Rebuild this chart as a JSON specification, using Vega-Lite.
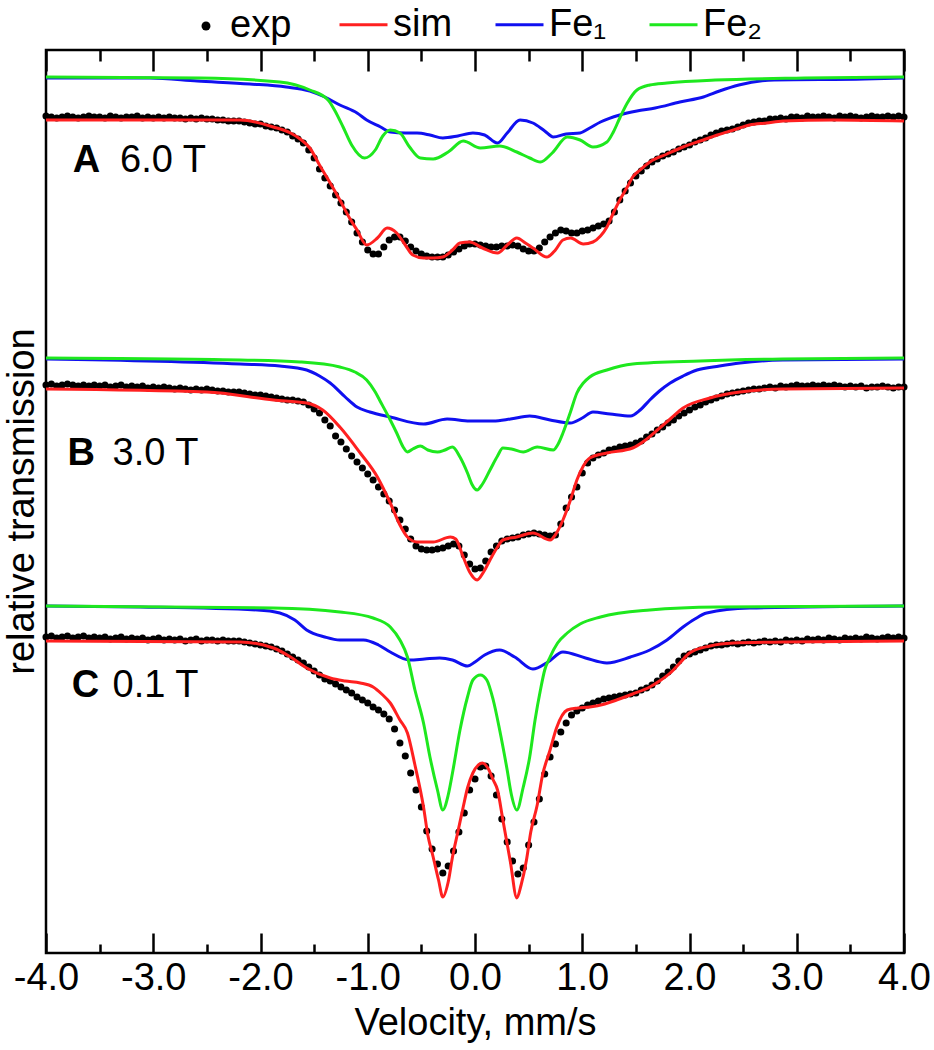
{
"$schema":"https://vega.github.io/schema/vega-lite/v6.json",
"width":858,"height":903,
"autosize":{"type":"none"},
"padding":{"left":46,"top":50,"right":30,"bottom":97},
"background":"white",
"config":{"view":{"stroke":"black","strokeWidth":2.5},"font":"Liberation Sans"},
"datasets":{
"exp":[
{"v":-4,"t":8.37},{"v":-3.95,"t":8.36},{"v":-3.9,"t":8.35},{"v":-3.85,"t":8.36},{"v":-3.8,"t":8.37},{"v":-3.75,"t":8.36},{"v":-3.7,"t":8.35},{"v":-3.65,"t":8.36},{"v":-3.6,"t":8.37},{"v":-3.55,"t":8.36},{"v":-3.5,"t":8.36},{"v":-3.45,"t":8.35},{"v":-3.4,"t":8.37},{"v":-3.35,"t":8.36},{"v":-3.3,"t":8.35},{"v":-3.25,"t":8.36},{"v":-3.2,"t":8.36},{"v":-3.15,"t":8.37},{"v":-3.1,"t":8.35},{"v":-3.05,"t":8.36},{"v":-3,"t":8.35},{"v":-2.95,"t":8.36},{"v":-2.9,"t":8.35},{"v":-2.85,"t":8.36},{"v":-2.8,"t":8.35},{"v":-2.75,"t":8.35},{"v":-2.7,"t":8.34},{"v":-2.65,"t":8.35},{"v":-2.6,"t":8.34},{"v":-2.55,"t":8.35},{"v":-2.5,"t":8.34},{"v":-2.45,"t":8.34},{"v":-2.4,"t":8.33},{"v":-2.35,"t":8.33},{"v":-2.3,"t":8.32},{"v":-2.25,"t":8.32},{"v":-2.2,"t":8.32},{"v":-2.15,"t":8.31},{"v":-2.1,"t":8.30},{"v":-2.05,"t":8.29},{"v":-2,"t":8.29},{"v":-1.95,"t":8.27},{"v":-1.9,"t":8.26},{"v":-1.85,"t":8.25},{"v":-1.8,"t":8.23},{"v":-1.75,"t":8.21},{"v":-1.7,"t":8.17},{"v":-1.65,"t":8.14},{"v":-1.6,"t":8.10},{"v":-1.55,"t":8.03},{"v":-1.5,"t":7.95},{"v":-1.45,"t":7.84},{"v":-1.4,"t":7.75},{"v":-1.35,"t":7.67},{"v":-1.3,"t":7.58},{"v":-1.25,"t":7.50},{"v":-1.2,"t":7.41},{"v":-1.15,"t":7.31},{"v":-1.1,"t":7.20},{"v":-1.05,"t":7.11},{"v":-1,"t":7.03},{"v":-0.95,"t":6.99},{"v":-0.9,"t":6.99},{"v":-0.85,"t":7.06},{"v":-0.8,"t":7.13},{"v":-0.75,"t":7.16},{"v":-0.7,"t":7.16},{"v":-0.65,"t":7.12},{"v":-0.6,"t":7.06},{"v":-0.55,"t":7.02},{"v":-0.5,"t":6.99},{"v":-0.45,"t":6.97},{"v":-0.4,"t":6.96},{"v":-0.35,"t":6.96},{"v":-0.3,"t":6.96},{"v":-0.25,"t":6.98},{"v":-0.2,"t":7.01},{"v":-0.15,"t":7.04},{"v":-0.1,"t":7.07},{"v":-0.05,"t":7.09},{"v":0,"t":7.09},{"v":0.05,"t":7.08},{"v":0.1,"t":7.07},{"v":0.15,"t":7.06},{"v":0.2,"t":7.06},{"v":0.25,"t":7.07},{"v":0.3,"t":7.07},{"v":0.35,"t":7.08},{"v":0.4,"t":7.07},{"v":0.45,"t":7.04},{"v":0.5,"t":7.02},{"v":0.55,"t":7.02},{"v":0.6,"t":7.05},{"v":0.65,"t":7.11},{"v":0.7,"t":7.16},{"v":0.75,"t":7.20},{"v":0.8,"t":7.23},{"v":0.85,"t":7.22},{"v":0.9,"t":7.20},{"v":0.95,"t":7.20},{"v":1,"t":7.22},{"v":1.05,"t":7.23},{"v":1.1,"t":7.25},{"v":1.15,"t":7.27},{"v":1.2,"t":7.29},{"v":1.25,"t":7.32},{"v":1.3,"t":7.41},{"v":1.35,"t":7.53},{"v":1.4,"t":7.62},{"v":1.45,"t":7.70},{"v":1.5,"t":7.77},{"v":1.55,"t":7.82},{"v":1.6,"t":7.87},{"v":1.65,"t":7.91},{"v":1.7,"t":7.94},{"v":1.75,"t":7.97},{"v":1.8,"t":7.99},{"v":1.85,"t":8.01},{"v":1.9,"t":8.04},{"v":1.95,"t":8.06},{"v":2,"t":8.08},{"v":2.05,"t":8.11},{"v":2.1,"t":8.13},{"v":2.15,"t":8.15},{"v":2.2,"t":8.18},{"v":2.25,"t":8.20},{"v":2.3,"t":8.22},{"v":2.35,"t":8.23},{"v":2.4,"t":8.24},{"v":2.45,"t":8.26},{"v":2.5,"t":8.28},{"v":2.55,"t":8.30},{"v":2.6,"t":8.31},{"v":2.65,"t":8.32},{"v":2.7,"t":8.32},{"v":2.75,"t":8.34},{"v":2.8,"t":8.34},{"v":2.85,"t":8.35},{"v":2.9,"t":8.34},{"v":2.95,"t":8.36},{"v":3,"t":8.36},{"v":3.05,"t":8.35},{"v":3.1,"t":8.37},{"v":3.15,"t":8.36},{"v":3.2,"t":8.36},{"v":3.25,"t":8.37},{"v":3.3,"t":8.36},{"v":3.35,"t":8.35},{"v":3.4,"t":8.37},{"v":3.45,"t":8.36},{"v":3.5,"t":8.37},{"v":3.55,"t":8.36},{"v":3.6,"t":8.35},{"v":3.65,"t":8.36},{"v":3.7,"t":8.37},{"v":3.75,"t":8.36},{"v":3.8,"t":8.36},{"v":3.85,"t":8.37},{"v":3.9,"t":8.36},{"v":3.95,"t":8.37},{"v":4,"t":8.36},
{"v":-4,"t":5.68},{"v":-3.95,"t":5.69},{"v":-3.9,"t":5.67},{"v":-3.85,"t":5.68},{"v":-3.8,"t":5.69},{"v":-3.75,"t":5.68},{"v":-3.7,"t":5.67},{"v":-3.65,"t":5.68},{"v":-3.6,"t":5.67},{"v":-3.55,"t":5.68},{"v":-3.5,"t":5.67},{"v":-3.45,"t":5.68},{"v":-3.4,"t":5.66},{"v":-3.35,"t":5.67},{"v":-3.3,"t":5.68},{"v":-3.25,"t":5.66},{"v":-3.2,"t":5.67},{"v":-3.15,"t":5.66},{"v":-3.1,"t":5.67},{"v":-3.05,"t":5.65},{"v":-3,"t":5.66},{"v":-2.95,"t":5.65},{"v":-2.9,"t":5.66},{"v":-2.85,"t":5.65},{"v":-2.8,"t":5.64},{"v":-2.75,"t":5.65},{"v":-2.7,"t":5.64},{"v":-2.65,"t":5.63},{"v":-2.6,"t":5.64},{"v":-2.55,"t":5.63},{"v":-2.5,"t":5.64},{"v":-2.45,"t":5.63},{"v":-2.4,"t":5.62},{"v":-2.35,"t":5.62},{"v":-2.3,"t":5.61},{"v":-2.25,"t":5.61},{"v":-2.2,"t":5.61},{"v":-2.15,"t":5.60},{"v":-2.1,"t":5.59},{"v":-2.05,"t":5.58},{"v":-2,"t":5.58},{"v":-1.95,"t":5.57},{"v":-1.9,"t":5.56},{"v":-1.85,"t":5.55},{"v":-1.8,"t":5.54},{"v":-1.75,"t":5.53},{"v":-1.7,"t":5.53},{"v":-1.65,"t":5.52},{"v":-1.6,"t":5.51},{"v":-1.55,"t":5.48},{"v":-1.5,"t":5.44},{"v":-1.45,"t":5.40},{"v":-1.4,"t":5.33},{"v":-1.35,"t":5.27},{"v":-1.3,"t":5.17},{"v":-1.25,"t":5.11},{"v":-1.2,"t":5.04},{"v":-1.15,"t":4.97},{"v":-1.1,"t":4.91},{"v":-1.05,"t":4.85},{"v":-1,"t":4.79},{"v":-0.95,"t":4.73},{"v":-0.9,"t":4.66},{"v":-0.85,"t":4.59},{"v":-0.8,"t":4.52},{"v":-0.75,"t":4.43},{"v":-0.7,"t":4.33},{"v":-0.65,"t":4.24},{"v":-0.6,"t":4.14},{"v":-0.55,"t":4.07},{"v":-0.5,"t":4.04},{"v":-0.45,"t":4.03},{"v":-0.4,"t":4.03},{"v":-0.35,"t":4.04},{"v":-0.3,"t":4.05},{"v":-0.25,"t":4.07},{"v":-0.2,"t":4.09},{"v":-0.15,"t":4.07},{"v":-0.1,"t":3.98},{"v":-0.05,"t":3.89},{"v":0,"t":3.84},{"v":0.05,"t":3.85},{"v":0.1,"t":3.92},{"v":0.15,"t":4.01},{"v":0.2,"t":4.07},{"v":0.25,"t":4.12},{"v":0.3,"t":4.14},{"v":0.35,"t":4.15},{"v":0.4,"t":4.16},{"v":0.45,"t":4.18},{"v":0.5,"t":4.19},{"v":0.55,"t":4.20},{"v":0.6,"t":4.19},{"v":0.65,"t":4.18},{"v":0.7,"t":4.17},{"v":0.75,"t":4.18},{"v":0.8,"t":4.29},{"v":0.85,"t":4.45},{"v":0.9,"t":4.56},{"v":0.95,"t":4.66},{"v":1,"t":4.80},{"v":1.05,"t":4.90},{"v":1.1,"t":4.95},{"v":1.15,"t":4.98},{"v":1.2,"t":5.00},{"v":1.25,"t":5.03},{"v":1.3,"t":5.04},{"v":1.35,"t":5.06},{"v":1.4,"t":5.07},{"v":1.45,"t":5.08},{"v":1.5,"t":5.10},{"v":1.55,"t":5.12},{"v":1.6,"t":5.16},{"v":1.65,"t":5.19},{"v":1.7,"t":5.23},{"v":1.75,"t":5.26},{"v":1.8,"t":5.30},{"v":1.85,"t":5.33},{"v":1.9,"t":5.37},{"v":1.95,"t":5.40},{"v":2,"t":5.43},{"v":2.05,"t":5.46},{"v":2.1,"t":5.48},{"v":2.15,"t":5.51},{"v":2.2,"t":5.53},{"v":2.25,"t":5.55},{"v":2.3,"t":5.57},{"v":2.35,"t":5.59},{"v":2.4,"t":5.60},{"v":2.45,"t":5.61},{"v":2.5,"t":5.62},{"v":2.55,"t":5.63},{"v":2.6,"t":5.64},{"v":2.65,"t":5.64},{"v":2.7,"t":5.65},{"v":2.75,"t":5.66},{"v":2.8,"t":5.65},{"v":2.85,"t":5.67},{"v":2.9,"t":5.66},{"v":2.95,"t":5.67},{"v":3,"t":5.68},{"v":3.05,"t":5.67},{"v":3.1,"t":5.67},{"v":3.15,"t":5.68},{"v":3.2,"t":5.67},{"v":3.25,"t":5.68},{"v":3.3,"t":5.67},{"v":3.35,"t":5.68},{"v":3.4,"t":5.67},{"v":3.45,"t":5.66},{"v":3.5,"t":5.67},{"v":3.55,"t":5.66},{"v":3.6,"t":5.67},{"v":3.65,"t":5.65},{"v":3.7,"t":5.66},{"v":3.75,"t":5.66},{"v":3.8,"t":5.67},{"v":3.85,"t":5.66},{"v":3.9,"t":5.65},{"v":3.95,"t":5.66},{"v":4,"t":5.66},
{"v":-4,"t":3.16},{"v":-3.95,"t":3.17},{"v":-3.9,"t":3.15},{"v":-3.85,"t":3.16},{"v":-3.8,"t":3.17},{"v":-3.75,"t":3.15},{"v":-3.7,"t":3.16},{"v":-3.65,"t":3.17},{"v":-3.6,"t":3.15},{"v":-3.55,"t":3.16},{"v":-3.5,"t":3.15},{"v":-3.45,"t":3.16},{"v":-3.4,"t":3.14},{"v":-3.35,"t":3.15},{"v":-3.3,"t":3.16},{"v":-3.25,"t":3.14},{"v":-3.2,"t":3.15},{"v":-3.15,"t":3.14},{"v":-3.1,"t":3.15},{"v":-3.05,"t":3.13},{"v":-3,"t":3.14},{"v":-2.95,"t":3.15},{"v":-2.9,"t":3.13},{"v":-2.85,"t":3.14},{"v":-2.8,"t":3.13},{"v":-2.75,"t":3.14},{"v":-2.7,"t":3.12},{"v":-2.65,"t":3.13},{"v":-2.6,"t":3.14},{"v":-2.55,"t":3.12},{"v":-2.5,"t":3.13},{"v":-2.45,"t":3.13},{"v":-2.4,"t":3.12},{"v":-2.35,"t":3.13},{"v":-2.3,"t":3.12},{"v":-2.25,"t":3.12},{"v":-2.2,"t":3.12},{"v":-2.15,"t":3.11},{"v":-2.1,"t":3.10},{"v":-2.05,"t":3.09},{"v":-2,"t":3.08},{"v":-1.95,"t":3.07},{"v":-1.9,"t":3.06},{"v":-1.85,"t":3.04},{"v":-1.8,"t":3.02},{"v":-1.75,"t":2.99},{"v":-1.7,"t":2.96},{"v":-1.65,"t":2.93},{"v":-1.6,"t":2.90},{"v":-1.55,"t":2.86},{"v":-1.5,"t":2.82},{"v":-1.45,"t":2.78},{"v":-1.4,"t":2.74},{"v":-1.35,"t":2.72},{"v":-1.3,"t":2.69},{"v":-1.25,"t":2.66},{"v":-1.2,"t":2.63},{"v":-1.15,"t":2.60},{"v":-1.1,"t":2.56},{"v":-1.05,"t":2.53},{"v":-1,"t":2.50},{"v":-0.95,"t":2.46},{"v":-0.9,"t":2.43},{"v":-0.85,"t":2.39},{"v":-0.8,"t":2.34},{"v":-0.75,"t":2.24},{"v":-0.7,"t":2.10},{"v":-0.65,"t":1.97},{"v":-0.6,"t":1.80},{"v":-0.55,"t":1.63},{"v":-0.5,"t":1.46},{"v":-0.45,"t":1.22},{"v":-0.4,"t":1.04},{"v":-0.35,"t":0.89},{"v":-0.3,"t":0.80},{"v":-0.25,"t":0.87},{"v":-0.2,"t":1.02},{"v":-0.15,"t":1.21},{"v":-0.1,"t":1.40},{"v":-0.05,"t":1.63},{"v":0,"t":1.74},{"v":0.05,"t":1.86},{"v":0.1,"t":1.87},{"v":0.15,"t":1.77},{"v":0.2,"t":1.58},{"v":0.25,"t":1.34},{"v":0.3,"t":1.11},{"v":0.35,"t":0.92},{"v":0.4,"t":0.79},{"v":0.45,"t":0.85},{"v":0.5,"t":1.08},{"v":0.55,"t":1.31},{"v":0.6,"t":1.54},{"v":0.65,"t":1.79},{"v":0.7,"t":1.96},{"v":0.75,"t":2.09},{"v":0.8,"t":2.21},{"v":0.85,"t":2.30},{"v":0.9,"t":2.38},{"v":0.95,"t":2.42},{"v":1,"t":2.45},{"v":1.05,"t":2.48},{"v":1.1,"t":2.50},{"v":1.15,"t":2.52},{"v":1.2,"t":2.54},{"v":1.25,"t":2.55},{"v":1.3,"t":2.56},{"v":1.35,"t":2.57},{"v":1.4,"t":2.58},{"v":1.45,"t":2.59},{"v":1.5,"t":2.60},{"v":1.55,"t":2.63},{"v":1.6,"t":2.65},{"v":1.65,"t":2.68},{"v":1.7,"t":2.72},{"v":1.75,"t":2.77},{"v":1.8,"t":2.81},{"v":1.85,"t":2.86},{"v":1.9,"t":2.92},{"v":1.95,"t":2.97},{"v":2,"t":2.99},{"v":2.05,"t":3.01},{"v":2.1,"t":3.03},{"v":2.15,"t":3.05},{"v":2.2,"t":3.07},{"v":2.25,"t":3.08},{"v":2.3,"t":3.08},{"v":2.35,"t":3.09},{"v":2.4,"t":3.10},{"v":2.45,"t":3.09},{"v":2.5,"t":3.10},{"v":2.55,"t":3.11},{"v":2.6,"t":3.10},{"v":2.65,"t":3.11},{"v":2.7,"t":3.12},{"v":2.75,"t":3.11},{"v":2.8,"t":3.12},{"v":2.85,"t":3.11},{"v":2.9,"t":3.13},{"v":2.95,"t":3.12},{"v":3,"t":3.13},{"v":3.05,"t":3.12},{"v":3.1,"t":3.14},{"v":3.15,"t":3.13},{"v":3.2,"t":3.14},{"v":3.25,"t":3.13},{"v":3.3,"t":3.15},{"v":3.35,"t":3.14},{"v":3.4,"t":3.13},{"v":3.45,"t":3.15},{"v":3.5,"t":3.14},{"v":3.55,"t":3.15},{"v":3.6,"t":3.14},{"v":3.65,"t":3.16},{"v":3.7,"t":3.15},{"v":3.75,"t":3.14},{"v":3.8,"t":3.15},{"v":3.85,"t":3.16},{"v":3.9,"t":3.15},{"v":3.95,"t":3.16},{"v":4,"t":3.15}
],
"fits":[
{"spectrum":"A","series":"sim","v":-4,"t":8.33},{"spectrum":"A","series":"sim","v":-3.03,"t":8.33},{"spectrum":"A","series":"sim","v":-2.19,"t":8.33},{"spectrum":"A","series":"sim","v":-1.88,"t":8.26},{"spectrum":"A","series":"sim","v":-1.72,"t":8.20},{"spectrum":"A","series":"sim","v":-1.63,"t":8.14},{"spectrum":"A","series":"sim","v":-1.54,"t":8.05},{"spectrum":"A","series":"sim","v":-1.45,"t":7.88},{"spectrum":"A","series":"sim","v":-1.35,"t":7.70},{"spectrum":"A","series":"sim","v":-1.26,"t":7.53},{"spectrum":"A","series":"sim","v":-1.17,"t":7.35},{"spectrum":"A","series":"sim","v":-1.10,"t":7.23},{"spectrum":"A","series":"sim","v":-1.01,"t":7.08},{"spectrum":"A","series":"sim","v":-0.91,"t":7.15},{"spectrum":"A","series":"sim","v":-0.82,"t":7.25},{"spectrum":"A","series":"sim","v":-0.73,"t":7.20},{"spectrum":"A","series":"sim","v":-0.65,"t":7.08},{"spectrum":"A","series":"sim","v":-0.58,"t":6.98},{"spectrum":"A","series":"sim","v":-0.48,"t":6.95},{"spectrum":"A","series":"sim","v":-0.39,"t":6.95},{"spectrum":"A","series":"sim","v":-0.30,"t":6.96},{"spectrum":"A","series":"sim","v":-0.21,"t":7.03},{"spectrum":"A","series":"sim","v":-0.14,"t":7.10},{"spectrum":"A","series":"sim","v":-0.05,"t":7.11},{"spectrum":"A","series":"sim","v":0.07,"t":7.05},{"spectrum":"A","series":"sim","v":0.21,"t":7.00},{"spectrum":"A","series":"sim","v":0.30,"t":7.08},{"spectrum":"A","series":"sim","v":0.39,"t":7.15},{"spectrum":"A","series":"sim","v":0.47,"t":7.10},{"spectrum":"A","series":"sim","v":0.54,"t":7.05},{"spectrum":"A","series":"sim","v":0.67,"t":6.96},{"spectrum":"A","series":"sim","v":0.75,"t":7.03},{"spectrum":"A","series":"sim","v":0.82,"t":7.13},{"spectrum":"A","series":"sim","v":0.89,"t":7.15},{"spectrum":"A","series":"sim","v":1.01,"t":7.09},{"spectrum":"A","series":"sim","v":1.10,"t":7.11},{"spectrum":"A","series":"sim","v":1.17,"t":7.17},{"spectrum":"A","series":"sim","v":1.23,"t":7.26},{"spectrum":"A","series":"sim","v":1.29,"t":7.40},{"spectrum":"A","series":"sim","v":1.35,"t":7.53},{"spectrum":"A","series":"sim","v":1.42,"t":7.66},{"spectrum":"A","series":"sim","v":1.47,"t":7.76},{"spectrum":"A","series":"sim","v":1.54,"t":7.83},{"spectrum":"A","series":"sim","v":1.63,"t":7.91},{"spectrum":"A","series":"sim","v":1.79,"t":7.99},{"spectrum":"A","series":"sim","v":1.94,"t":8.06},{"spectrum":"A","series":"sim","v":2.10,"t":8.12},{"spectrum":"A","series":"sim","v":2.26,"t":8.18},{"spectrum":"A","series":"sim","v":2.41,"t":8.23},{"spectrum":"A","series":"sim","v":2.56,"t":8.28},{"spectrum":"A","series":"sim","v":2.72,"t":8.30},{"spectrum":"A","series":"sim","v":2.87,"t":8.32},{"spectrum":"A","series":"sim","v":3.34,"t":8.33},{"spectrum":"A","series":"sim","v":4,"t":8.32},
{"spectrum":"A","series":"Fe₁","v":-4,"t":8.75},{"spectrum":"A","series":"Fe₁","v":-3.03,"t":8.75},{"spectrum":"A","series":"Fe₁","v":-2.59,"t":8.72},{"spectrum":"A","series":"Fe₁","v":-2.10,"t":8.69},{"spectrum":"A","series":"Fe₁","v":-1.76,"t":8.66},{"spectrum":"A","series":"Fe₁","v":-1.54,"t":8.62},{"spectrum":"A","series":"Fe₁","v":-1.40,"t":8.56},{"spectrum":"A","series":"Fe₁","v":-1.26,"t":8.48},{"spectrum":"A","series":"Fe₁","v":-1.10,"t":8.40},{"spectrum":"A","series":"Fe₁","v":-1.01,"t":8.33},{"spectrum":"A","series":"Fe₁","v":-0.88,"t":8.26},{"spectrum":"A","series":"Fe₁","v":-0.79,"t":8.21},{"spectrum":"A","series":"Fe₁","v":-0.65,"t":8.20},{"spectrum":"A","series":"Fe₁","v":-0.54,"t":8.20},{"spectrum":"A","series":"Fe₁","v":-0.42,"t":8.18},{"spectrum":"A","series":"Fe₁","v":-0.30,"t":8.15},{"spectrum":"A","series":"Fe₁","v":-0.16,"t":8.17},{"spectrum":"A","series":"Fe₁","v":-0.02,"t":8.20},{"spectrum":"A","series":"Fe₁","v":0.09,"t":8.18},{"spectrum":"A","series":"Fe₁","v":0.21,"t":8.10},{"spectrum":"A","series":"Fe₁","v":0.30,"t":8.20},{"spectrum":"A","series":"Fe₁","v":0.42,"t":8.33},{"spectrum":"A","series":"Fe₁","v":0.54,"t":8.30},{"spectrum":"A","series":"Fe₁","v":0.65,"t":8.22},{"spectrum":"A","series":"Fe₁","v":0.73,"t":8.16},{"spectrum":"A","series":"Fe₁","v":0.85,"t":8.19},{"spectrum":"A","series":"Fe₁","v":0.98,"t":8.20},{"spectrum":"A","series":"Fe₁","v":1.07,"t":8.25},{"spectrum":"A","series":"Fe₁","v":1.17,"t":8.31},{"spectrum":"A","series":"Fe₁","v":1.35,"t":8.38},{"spectrum":"A","series":"Fe₁","v":1.51,"t":8.42},{"spectrum":"A","series":"Fe₁","v":1.68,"t":8.45},{"spectrum":"A","series":"Fe₁","v":1.91,"t":8.51},{"spectrum":"A","series":"Fe₁","v":2.13,"t":8.56},{"spectrum":"A","series":"Fe₁","v":2.28,"t":8.62},{"spectrum":"A","series":"Fe₁","v":2.46,"t":8.68},{"spectrum":"A","series":"Fe₁","v":2.79,"t":8.73},{"spectrum":"A","series":"Fe₁","v":3.63,"t":8.74},{"spectrum":"A","series":"Fe₁","v":4,"t":8.75},
{"spectrum":"A","series":"Fe₂","v":-4,"t":8.76},{"spectrum":"A","series":"Fe₂","v":-2.56,"t":8.75},{"spectrum":"A","series":"Fe₂","v":-1.82,"t":8.71},{"spectrum":"A","series":"Fe₂","v":-1.54,"t":8.63},{"spectrum":"A","series":"Fe₂","v":-1.37,"t":8.53},{"spectrum":"A","series":"Fe₂","v":-1.31,"t":8.43},{"spectrum":"A","series":"Fe₂","v":-1.23,"t":8.26},{"spectrum":"A","series":"Fe₂","v":-1.15,"t":8.08},{"spectrum":"A","series":"Fe₂","v":-1.03,"t":7.95},{"spectrum":"A","series":"Fe₂","v":-0.93,"t":8.03},{"spectrum":"A","series":"Fe₂","v":-0.86,"t":8.17},{"spectrum":"A","series":"Fe₂","v":-0.79,"t":8.23},{"spectrum":"A","series":"Fe₂","v":-0.70,"t":8.20},{"spectrum":"A","series":"Fe₂","v":-0.61,"t":8.06},{"spectrum":"A","series":"Fe₂","v":-0.51,"t":7.95},{"spectrum":"A","series":"Fe₂","v":-0.39,"t":7.94},{"spectrum":"A","series":"Fe₂","v":-0.25,"t":8.01},{"spectrum":"A","series":"Fe₂","v":-0.11,"t":8.12},{"spectrum":"A","series":"Fe₂","v":0.05,"t":8.05},{"spectrum":"A","series":"Fe₂","v":0.23,"t":8.07},{"spectrum":"A","series":"Fe₂","v":0.39,"t":8.01},{"spectrum":"A","series":"Fe₂","v":0.51,"t":7.95},{"spectrum":"A","series":"Fe₂","v":0.61,"t":7.91},{"spectrum":"A","series":"Fe₂","v":0.72,"t":8.00},{"spectrum":"A","series":"Fe₂","v":0.86,"t":8.16},{"spectrum":"A","series":"Fe₂","v":0.98,"t":8.13},{"spectrum":"A","series":"Fe₂","v":1.10,"t":8.06},{"spectrum":"A","series":"Fe₂","v":1.23,"t":8.11},{"spectrum":"A","series":"Fe₂","v":1.29,"t":8.21},{"spectrum":"A","series":"Fe₂","v":1.35,"t":8.35},{"spectrum":"A","series":"Fe₂","v":1.42,"t":8.50},{"spectrum":"A","series":"Fe₂","v":1.51,"t":8.63},{"spectrum":"A","series":"Fe₂","v":1.63,"t":8.68},{"spectrum":"A","series":"Fe₂","v":1.79,"t":8.70},{"spectrum":"A","series":"Fe₂","v":2.24,"t":8.73},{"spectrum":"A","series":"Fe₂","v":3.07,"t":8.75},{"spectrum":"A","series":"Fe₂","v":4,"t":8.76},
{"spectrum":"B","series":"sim","v":-4,"t":5.64},{"spectrum":"B","series":"sim","v":-2.50,"t":5.61},{"spectrum":"B","series":"sim","v":-1.88,"t":5.53},{"spectrum":"B","series":"sim","v":-1.57,"t":5.50},{"spectrum":"B","series":"sim","v":-1.42,"t":5.43},{"spectrum":"B","series":"sim","v":-1.26,"t":5.26},{"spectrum":"B","series":"sim","v":-1.07,"t":5.00},{"spectrum":"B","series":"sim","v":-0.91,"t":4.76},{"spectrum":"B","series":"sim","v":-0.79,"t":4.50},{"spectrum":"B","series":"sim","v":-0.70,"t":4.28},{"spectrum":"B","series":"sim","v":-0.63,"t":4.16},{"spectrum":"B","series":"sim","v":-0.54,"t":4.11},{"spectrum":"B","series":"sim","v":-0.39,"t":4.11},{"spectrum":"B","series":"sim","v":-0.23,"t":4.16},{"spectrum":"B","series":"sim","v":-0.18,"t":4.14},{"spectrum":"B","series":"sim","v":-0.11,"t":3.96},{"spectrum":"B","series":"sim","v":-0.05,"t":3.81},{"spectrum":"B","series":"sim","v":0.02,"t":3.73},{"spectrum":"B","series":"sim","v":0.08,"t":3.81},{"spectrum":"B","series":"sim","v":0.14,"t":3.93},{"spectrum":"B","series":"sim","v":0.21,"t":4.06},{"spectrum":"B","series":"sim","v":0.26,"t":4.13},{"spectrum":"B","series":"sim","v":0.39,"t":4.16},{"spectrum":"B","series":"sim","v":0.54,"t":4.20},{"spectrum":"B","series":"sim","v":0.70,"t":4.13},{"spectrum":"B","series":"sim","v":0.76,"t":4.20},{"spectrum":"B","series":"sim","v":0.82,"t":4.33},{"spectrum":"B","series":"sim","v":0.89,"t":4.53},{"spectrum":"B","series":"sim","v":0.95,"t":4.73},{"spectrum":"B","series":"sim","v":1.01,"t":4.87},{"spectrum":"B","series":"sim","v":1.07,"t":4.95},{"spectrum":"B","series":"sim","v":1.23,"t":5.00},{"spectrum":"B","series":"sim","v":1.47,"t":5.05},{"spectrum":"B","series":"sim","v":1.59,"t":5.13},{"spectrum":"B","series":"sim","v":1.70,"t":5.23},{"spectrum":"B","series":"sim","v":1.82,"t":5.34},{"spectrum":"B","series":"sim","v":1.94,"t":5.45},{"spectrum":"B","series":"sim","v":2.19,"t":5.55},{"spectrum":"B","series":"sim","v":2.47,"t":5.61},{"spectrum":"B","series":"sim","v":2.87,"t":5.64},{"spectrum":"B","series":"sim","v":4,"t":5.65},
{"spectrum":"B","series":"Fe₁","v":-4,"t":5.94},{"spectrum":"B","series":"Fe₁","v":-2.19,"t":5.89},{"spectrum":"B","series":"Fe₁","v":-1.82,"t":5.87},{"spectrum":"B","series":"Fe₁","v":-1.57,"t":5.83},{"spectrum":"B","series":"Fe₁","v":-1.45,"t":5.77},{"spectrum":"B","series":"Fe₁","v":-1.35,"t":5.70},{"spectrum":"B","series":"Fe₁","v":-1.21,"t":5.56},{"spectrum":"B","series":"Fe₁","v":-1.10,"t":5.46},{"spectrum":"B","series":"Fe₁","v":-0.98,"t":5.41},{"spectrum":"B","series":"Fe₁","v":-0.79,"t":5.36},{"spectrum":"B","series":"Fe₁","v":-0.48,"t":5.29},{"spectrum":"B","series":"Fe₁","v":-0.26,"t":5.34},{"spectrum":"B","series":"Fe₁","v":-0.05,"t":5.32},{"spectrum":"B","series":"Fe₁","v":0.17,"t":5.32},{"spectrum":"B","series":"Fe₁","v":0.33,"t":5.34},{"spectrum":"B","series":"Fe₁","v":0.51,"t":5.37},{"spectrum":"B","series":"Fe₁","v":0.70,"t":5.33},{"spectrum":"B","series":"Fe₁","v":0.89,"t":5.30},{"spectrum":"B","series":"Fe₁","v":1.00,"t":5.35},{"spectrum":"B","series":"Fe₁","v":1.10,"t":5.41},{"spectrum":"B","series":"Fe₁","v":1.26,"t":5.39},{"spectrum":"B","series":"Fe₁","v":1.45,"t":5.37},{"spectrum":"B","series":"Fe₁","v":1.54,"t":5.43},{"spectrum":"B","series":"Fe₁","v":1.63,"t":5.53},{"spectrum":"B","series":"Fe₁","v":1.72,"t":5.62},{"spectrum":"B","series":"Fe₁","v":1.82,"t":5.70},{"spectrum":"B","series":"Fe₁","v":1.94,"t":5.77},{"spectrum":"B","series":"Fe₁","v":2.07,"t":5.83},{"spectrum":"B","series":"Fe₁","v":2.28,"t":5.87},{"spectrum":"B","series":"Fe₁","v":2.47,"t":5.90},{"spectrum":"B","series":"Fe₁","v":2.87,"t":5.93},{"spectrum":"B","series":"Fe₁","v":4,"t":5.94},
{"spectrum":"B","series":"Fe₂","v":-4,"t":5.95},{"spectrum":"B","series":"Fe₂","v":-2.19,"t":5.93},{"spectrum":"B","series":"Fe₂","v":-1.63,"t":5.91},{"spectrum":"B","series":"Fe₂","v":-1.26,"t":5.86},{"spectrum":"B","series":"Fe₂","v":-1.12,"t":5.81},{"spectrum":"B","series":"Fe₂","v":-1.01,"t":5.73},{"spectrum":"B","series":"Fe₂","v":-0.93,"t":5.61},{"spectrum":"B","series":"Fe₂","v":-0.89,"t":5.53},{"spectrum":"B","series":"Fe₂","v":-0.79,"t":5.33},{"spectrum":"B","series":"Fe₂","v":-0.73,"t":5.20},{"spectrum":"B","series":"Fe₂","v":-0.67,"t":5.06},{"spectrum":"B","series":"Fe₂","v":-0.63,"t":5.01},{"spectrum":"B","series":"Fe₂","v":-0.58,"t":5.04},{"spectrum":"B","series":"Fe₂","v":-0.51,"t":5.07},{"spectrum":"B","series":"Fe₂","v":-0.44,"t":5.03},{"spectrum":"B","series":"Fe₂","v":-0.35,"t":5.01},{"spectrum":"B","series":"Fe₂","v":-0.28,"t":5.03},{"spectrum":"B","series":"Fe₂","v":-0.21,"t":5.06},{"spectrum":"B","series":"Fe₂","v":-0.14,"t":4.96},{"spectrum":"B","series":"Fe₂","v":-0.07,"t":4.80},{"spectrum":"B","series":"Fe₂","v":-0.03,"t":4.69},{"spectrum":"B","series":"Fe₂","v":0.02,"t":4.63},{"spectrum":"B","series":"Fe₂","v":0.07,"t":4.69},{"spectrum":"B","series":"Fe₂","v":0.14,"t":4.83},{"spectrum":"B","series":"Fe₂","v":0.21,"t":4.97},{"spectrum":"B","series":"Fe₂","v":0.26,"t":5.05},{"spectrum":"B","series":"Fe₂","v":0.34,"t":5.04},{"spectrum":"B","series":"Fe₂","v":0.45,"t":5.01},{"spectrum":"B","series":"Fe₂","v":0.58,"t":5.06},{"spectrum":"B","series":"Fe₂","v":0.73,"t":5.03},{"spectrum":"B","series":"Fe₂","v":0.77,"t":5.08},{"spectrum":"B","series":"Fe₂","v":0.82,"t":5.20},{"spectrum":"B","series":"Fe₂","v":0.89,"t":5.41},{"spectrum":"B","series":"Fe₂","v":0.95,"t":5.60},{"spectrum":"B","series":"Fe₂","v":1.01,"t":5.70},{"spectrum":"B","series":"Fe₂","v":1.07,"t":5.76},{"spectrum":"B","series":"Fe₂","v":1.23,"t":5.83},{"spectrum":"B","series":"Fe₂","v":1.47,"t":5.89},{"spectrum":"B","series":"Fe₂","v":2.10,"t":5.92},{"spectrum":"B","series":"Fe₂","v":2.87,"t":5.94},{"spectrum":"B","series":"Fe₂","v":4,"t":5.95},
{"spectrum":"C","series":"sim","v":-4,"t":3.12},{"spectrum":"C","series":"sim","v":-2.19,"t":3.11},{"spectrum":"C","series":"sim","v":-1.88,"t":3.05},{"spectrum":"C","series":"sim","v":-1.72,"t":2.96},{"spectrum":"C","series":"sim","v":-1.57,"t":2.85},{"spectrum":"C","series":"sim","v":-1.35,"t":2.75},{"spectrum":"C","series":"sim","v":-1.21,"t":2.72},{"spectrum":"C","series":"sim","v":-1.07,"t":2.70},{"spectrum":"C","series":"sim","v":-0.95,"t":2.66},{"spectrum":"C","series":"sim","v":-0.87,"t":2.59},{"spectrum":"C","series":"sim","v":-0.79,"t":2.50},{"spectrum":"C","series":"sim","v":-0.70,"t":2.33},{"spectrum":"C","series":"sim","v":-0.63,"t":2.20},{"spectrum":"C","series":"sim","v":-0.56,"t":1.88},{"spectrum":"C","series":"sim","v":-0.48,"t":1.46},{"spectrum":"C","series":"sim","v":-0.44,"t":1.18},{"spectrum":"C","series":"sim","v":-0.39,"t":0.96},{"spectrum":"C","series":"sim","v":-0.34,"t":0.73},{"spectrum":"C","series":"sim","v":-0.30,"t":0.56},{"spectrum":"C","series":"sim","v":-0.25,"t":0.71},{"spectrum":"C","series":"sim","v":-0.21,"t":0.96},{"spectrum":"C","series":"sim","v":-0.16,"t":1.21},{"spectrum":"C","series":"sim","v":-0.11,"t":1.46},{"spectrum":"C","series":"sim","v":-0.07,"t":1.65},{"spectrum":"C","series":"sim","v":-0.02,"t":1.80},{"spectrum":"C","series":"sim","v":0.03,"t":1.88},{"spectrum":"C","series":"sim","v":0.07,"t":1.90},{"spectrum":"C","series":"sim","v":0.12,"t":1.85},{"spectrum":"C","series":"sim","v":0.17,"t":1.73},{"spectrum":"C","series":"sim","v":0.21,"t":1.63},{"spectrum":"C","series":"sim","v":0.26,"t":1.33},{"spectrum":"C","series":"sim","v":0.33,"t":0.91},{"spectrum":"C","series":"sim","v":0.39,"t":0.55},{"spectrum":"C","series":"sim","v":0.43,"t":0.68},{"spectrum":"C","series":"sim","v":0.48,"t":0.93},{"spectrum":"C","series":"sim","v":0.52,"t":1.21},{"spectrum":"C","series":"sim","v":0.58,"t":1.48},{"spectrum":"C","series":"sim","v":0.63,"t":1.78},{"spectrum":"C","series":"sim","v":0.70,"t":2.03},{"spectrum":"C","series":"sim","v":0.76,"t":2.25},{"spectrum":"C","series":"sim","v":0.86,"t":2.43},{"spectrum":"C","series":"sim","v":0.96,"t":2.45},{"spectrum":"C","series":"sim","v":1.07,"t":2.46},{"spectrum":"C","series":"sim","v":1.21,"t":2.49},{"spectrum":"C","series":"sim","v":1.32,"t":2.53},{"spectrum":"C","series":"sim","v":1.47,"t":2.59},{"spectrum":"C","series":"sim","v":1.63,"t":2.66},{"spectrum":"C","series":"sim","v":1.72,"t":2.72},{"spectrum":"C","series":"sim","v":1.82,"t":2.80},{"spectrum":"C","series":"sim","v":1.91,"t":2.90},{"spectrum":"C","series":"sim","v":2.00,"t":3.00},{"spectrum":"C","series":"sim","v":2.19,"t":3.07},{"spectrum":"C","series":"sim","v":2.41,"t":3.10},{"spectrum":"C","series":"sim","v":2.87,"t":3.11},{"spectrum":"C","series":"sim","v":4,"t":3.12},
{"spectrum":"C","series":"Fe₁","v":-4,"t":3.47},{"spectrum":"C","series":"Fe₁","v":-3.12,"t":3.46},{"spectrum":"C","series":"Fe₁","v":-2.03,"t":3.43},{"spectrum":"C","series":"Fe₁","v":-1.82,"t":3.40},{"spectrum":"C","series":"Fe₁","v":-1.68,"t":3.33},{"spectrum":"C","series":"Fe₁","v":-1.57,"t":3.23},{"spectrum":"C","series":"Fe₁","v":-1.40,"t":3.16},{"spectrum":"C","series":"Fe₁","v":-1.26,"t":3.13},{"spectrum":"C","series":"Fe₁","v":-1.04,"t":3.13},{"spectrum":"C","series":"Fe₁","v":-0.90,"t":3.08},{"spectrum":"C","series":"Fe₁","v":-0.79,"t":3.01},{"spectrum":"C","series":"Fe₁","v":-0.61,"t":2.93},{"spectrum":"C","series":"Fe₁","v":-0.47,"t":2.94},{"spectrum":"C","series":"Fe₁","v":-0.33,"t":2.95},{"spectrum":"C","series":"Fe₁","v":-0.21,"t":2.93},{"spectrum":"C","series":"Fe₁","v":-0.07,"t":2.87},{"spectrum":"C","series":"Fe₁","v":0.00,"t":2.91},{"spectrum":"C","series":"Fe₁","v":0.09,"t":2.98},{"spectrum":"C","series":"Fe₁","v":0.23,"t":3.03},{"spectrum":"C","series":"Fe₁","v":0.37,"t":2.96},{"spectrum":"C","series":"Fe₁","v":0.54,"t":2.84},{"spectrum":"C","series":"Fe₁","v":0.68,"t":2.91},{"spectrum":"C","series":"Fe₁","v":0.82,"t":3.01},{"spectrum":"C","series":"Fe₁","v":1.03,"t":2.95},{"spectrum":"C","series":"Fe₁","v":1.23,"t":2.90},{"spectrum":"C","series":"Fe₁","v":1.45,"t":2.96},{"spectrum":"C","series":"Fe₁","v":1.63,"t":3.03},{"spectrum":"C","series":"Fe₁","v":1.79,"t":3.13},{"spectrum":"C","series":"Fe₁","v":1.94,"t":3.26},{"spectrum":"C","series":"Fe₁","v":2.05,"t":3.34},{"spectrum":"C","series":"Fe₁","v":2.16,"t":3.40},{"spectrum":"C","series":"Fe₁","v":2.56,"t":3.45},{"spectrum":"C","series":"Fe₁","v":4,"t":3.47},
{"spectrum":"C","series":"Fe₂","v":-4,"t":3.47},{"spectrum":"C","series":"Fe₂","v":-1.88,"t":3.45},{"spectrum":"C","series":"Fe₂","v":-1.26,"t":3.41},{"spectrum":"C","series":"Fe₂","v":-0.95,"t":3.35},{"spectrum":"C","series":"Fe₂","v":-0.79,"t":3.26},{"spectrum":"C","series":"Fe₂","v":-0.70,"t":3.13},{"spectrum":"C","series":"Fe₂","v":-0.63,"t":2.96},{"spectrum":"C","series":"Fe₂","v":-0.56,"t":2.63},{"spectrum":"C","series":"Fe₂","v":-0.48,"t":2.30},{"spectrum":"C","series":"Fe₂","v":-0.42,"t":1.96},{"spectrum":"C","series":"Fe₂","v":-0.35,"t":1.63},{"spectrum":"C","series":"Fe₂","v":-0.30,"t":1.43},{"spectrum":"C","series":"Fe₂","v":-0.25,"t":1.58},{"spectrum":"C","series":"Fe₂","v":-0.21,"t":1.80},{"spectrum":"C","series":"Fe₂","v":-0.14,"t":2.23},{"spectrum":"C","series":"Fe₂","v":-0.07,"t":2.56},{"spectrum":"C","series":"Fe₂","v":-0.02,"t":2.73},{"spectrum":"C","series":"Fe₂","v":0.05,"t":2.78},{"spectrum":"C","series":"Fe₂","v":0.11,"t":2.73},{"spectrum":"C","series":"Fe₂","v":0.17,"t":2.53},{"spectrum":"C","series":"Fe₂","v":0.23,"t":2.23},{"spectrum":"C","series":"Fe₂","v":0.30,"t":1.83},{"spectrum":"C","series":"Fe₂","v":0.34,"t":1.58},{"spectrum":"C","series":"Fe₂","v":0.39,"t":1.43},{"spectrum":"C","series":"Fe₂","v":0.45,"t":1.66},{"spectrum":"C","series":"Fe₂","v":0.51,"t":1.96},{"spectrum":"C","series":"Fe₂","v":0.56,"t":2.33},{"spectrum":"C","series":"Fe₂","v":0.61,"t":2.63},{"spectrum":"C","series":"Fe₂","v":0.65,"t":2.83},{"spectrum":"C","series":"Fe₂","v":0.70,"t":2.96},{"spectrum":"C","series":"Fe₂","v":0.77,"t":3.10},{"spectrum":"C","series":"Fe₂","v":0.86,"t":3.20},{"spectrum":"C","series":"Fe₂","v":0.98,"t":3.29},{"spectrum":"C","series":"Fe₂","v":1.17,"t":3.36},{"spectrum":"C","series":"Fe₂","v":1.63,"t":3.43},{"spectrum":"C","series":"Fe₂","v":2.26,"t":3.46},{"spectrum":"C","series":"Fe₂","v":4,"t":3.47}
],
"labels":[
{"letter":"A","field":"6.0 T","v":-3.75,"v2":-3.31,"t":7.81},
{"letter":"B","field":"3.0 T","v":-3.8,"v2":-3.38,"t":4.88},
{"letter":"C","field":"0.1 T","v":-3.76,"v2":-3.38,"t":2.56}
]
},
"layer":[
{
"data":{"name":"exp"},
"mark":{"type":"point","filled":true,"size":50,"color":"black","opacity":1},
"encoding":{
"x":{"field":"v","type":"quantitative","scale":{"domain":[-4,4],"nice":false,"zero":false},
"axis":{"orient":"bottom","values":[-4,-3.5,-3,-2.5,-2,-1.5,-1,-0.5,0,0.5,1,1.5,2,2.5,3,3.5,4],
"tickSize":{"condition":{"test":"datum.value % 1 !== 0","value":-9},"value":-20},
"tickWidth":2.5,"tickColor":"black","domain":false,"grid":false,
"labelExpr":"datum.value % 1 === 0 ? (datum.value < 0 ? '-' : '') + format(abs(datum.value), '.1f') : ''",
"labelFontSize":38,"labelFont":"Liberation Sans","labelColor":"black","labelPadding":26,"labelFlush":false,"labelOverlap":false,
"title":"Velocity, mm/s","titleFontSize":38,"titleFont":"Liberation Sans","titleFontWeight":"normal","titleColor":"black","titlePadding":-4}},
"y":{"field":"t","type":"quantitative","scale":{"domain":[0,9.03],"nice":false,"zero":false},"axis":null},
"shape":{"datum":"exp","scale":{"domain":["exp"],"range":["circle"]},
"legend":{"orient":"none","legendX":141,"legendY":-43,"title":null,"padding":0,"labelFontSize":38,"labelFont":"Liberation Sans","labelColor":"black","symbolSize":80,"symbolFillColor":"black","symbolStrokeColor":"black","labelOffset":5}}
}
},
{
"data":{"name":"fits"},
"mark":{"type":"line","strokeWidth":3,"interpolate":"monotone"},
"encoding":{
"x":{"field":"v","type":"quantitative","scale":{"domain":[-4,4],"nice":false,"zero":false},
"axis":{"orient":"top","values":[-4,-3.5,-3,-2.5,-2,-1.5,-1,-0.5,0,0.5,1,1.5,2,2.5,3,3.5,4],
"tickSize":{"condition":{"test":"datum.value % 1 !== 0","value":-11},"value":-21},
"tickWidth":2.5,"tickColor":"black","domain":false,"grid":false,"labels":false,"title":null}},
"y":{"field":"t","type":"quantitative","axis":null},
"color":{"field":"series","type":"nominal","scale":{"domain":["sim","Fe₁","Fe₂"],"range":["#ff2020","#1010f0","#1ee81e"]},
"legend":{"orient":"none","legendX":292,"legendY":-51,"direction":"horizontal","title":null,"padding":0,"symbolType":"stroke","symbolStrokeWidth":3,"symbolSize":2304,"labelOffset":4,"columnPadding":36,"labelFontSize":38,"labelFont":"Liberation Sans","labelColor":"black"}},
"detail":{"field":"spectrum","type":"nominal"}
}
},
{
"data":{"name":"labels"},
"mark":{"type":"text","align":"left","baseline":"alphabetic","fontSize":38,"fontWeight":"bold","font":"Liberation Sans","color":"black"},
"encoding":{
"x":{"field":"v","type":"quantitative","axis":null},
"y":{"field":"t","type":"quantitative","axis":null},
"text":{"field":"letter"}
}
},
{
"data":{"name":"labels"},
"mark":{"type":"text","align":"left","baseline":"alphabetic","fontSize":38,"font":"Liberation Sans","color":"black"},
"encoding":{
"x":{"field":"v2","type":"quantitative","axis":null},
"y":{"field":"t","type":"quantitative","axis":null},
"text":{"field":"field"}
}
},
{
"data":{"values":[{"label":"relative transmission"}]},
"mark":{"type":"text","angle":270,"align":"center","baseline":"alphabetic","fontSize":38,"font":"Liberation Sans","color":"black","clip":false},
"encoding":{
"x":{"datum":-4.112,"type":"quantitative","axis":null},
"y":{"datum":4.515,"type":"quantitative","axis":null},
"text":{"field":"label"}
}
}
]
}
